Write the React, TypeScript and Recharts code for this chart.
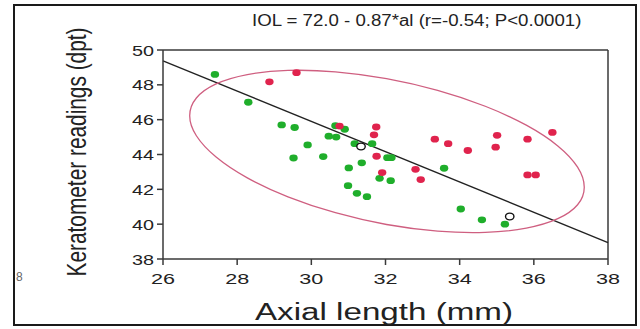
import { ScatterChart, Scatter, XAxis, YAxis, ReferenceLine } from 'recharts'

// axial length (mm) / keratometer reading (dpt)
const greenX = [27.4, 28.3, 29.2, 29.55, 30.65, 30.9, 30.47, 30.67, 29.9, 31.17, 31.64, 29.52, 30.32, 32.05, 32.16, 31.01, 31.36, 31.84, 32.14, 30.99, 31.23, 31.5, 33.58, 34.03, 34.6, 35.22]
const greenY = [48.6, 47.0, 45.7, 45.55, 45.65, 45.45, 45.05, 45.0, 44.55, 44.62, 44.62, 43.8, 43.88, 43.82, 43.82, 43.23, 43.52, 42.63, 42.5, 42.21, 41.77, 41.58, 43.21, 40.87, 40.25, 40.0]

const redX = [29.6, 28.87, 30.76, 31.75, 31.69, 31.76, 31.91, 32.81, 32.95, 33.33, 33.69, 34.22, 35.01, 34.97, 35.83, 36.5, 35.83, 36.05]
const redY = [48.7, 48.17, 45.63, 45.58, 45.13, 43.9, 42.96, 43.15, 42.56, 44.88, 44.62, 44.23, 45.1, 44.42, 44.88, 45.27, 42.83, 42.83]

const openX = [31.34, 35.35]
const openY = [44.46, 40.44]

// regression line end points (IOL = 72.0 - 0.87*al)
const lineX = [26, 38]
const lineY = [49.38, 38.94]

// outline of the ellipse
const ellipseX = [37.42, 37.24, 36.7, 35.84, 34.72, 33.42, 32.03, 30.63, 29.34, 28.23, 27.38, 26.84, 26.66, 26.84, 27.38, 28.23, 29.34, 30.63, 32.03, 33.42, 34.72, 35.84, 36.7, 37.24]
const ellipseY = [42.1, 41.08, 40.27, 39.72, 39.48, 39.55, 39.93, 40.62, 41.54, 42.64, 43.85, 45.09, 46.25, 47.28, 48.1, 48.64, 48.88, 48.8, 48.4, 47.72, 46.8, 45.7, 44.5, 43.26]

const xTicks = [26, 28, 30, 32, 34, 36, 38]
const yTicks = [38, 40, 42, 44, 46, 48, 50]

const toPoints = (xs: number[], ys: number[]) => xs.map((x, i) => ({ x, y: ys[i] }))

const greenData = toPoints(greenX, greenY)
const redData = toPoints(redX, redY)
const openData = toPoints(openX, openY)
const ellipseData = toPoints(ellipseX, ellipseY)

const FONT = '"Liberation Sans", Arial, sans-serif'
const AXIS = '#3a3a3a'

function Dot(color: string) {
  return (p: any) => <ellipse cx={p.cx} cy={p.cy} rx={4.2} ry={3.4} fill={color} />
}

const OpenDot = (p: any) => (
  <ellipse cx={p.cx} cy={p.cy} rx={4.2} ry={3.4} fill="#fff" stroke="#111" strokeWidth={1.4} />
)

const XTick = (p: any) => (
  <text x={p.x} y={p.y + 17} textAnchor="middle" fontSize={15} fontFamily={FONT} fill="#222"
    textLength={24} lengthAdjust="spacingAndGlyphs">{p.payload.value}</text>
)

const YTick = (p: any) => (
  <text x={p.x - 1} y={p.y + 5.5} textAnchor="end" fontSize={15} fontFamily={FONT} fill="#222"
    textLength={22} lengthAdjust="spacingAndGlyphs">{p.payload.value}</text>
)

export default function App() {
  return (
    <div style={{ position: 'absolute', left: 0, top: 0, width: 640, height: 329, background: '#fff', overflow: 'hidden' }}>
      <div style={{ position: 'absolute', left: 13, top: 4, width: 620, height: 318, border: '2px solid #1a1a1a' }} />
      <span style={{ position: 'absolute', left: 16, top: 270, fontFamily: FONT, fontSize: 12, color: '#666' }}>8</span>
      <ScatterChart width={640} height={329} margin={{ top: 50, right: 32, left: 0, bottom: 0 }}>
        <XAxis type="number" dataKey="x" domain={[26, 38]} ticks={xTicks} allowDataOverflow
          height={70} tickSize={6} tick={XTick} stroke={AXIS} strokeWidth={1.5}
          label={{ content: () => (
            <text x={384} y={320} textAnchor="middle" fontSize={23} fontFamily={FONT} fill="#222"
              textLength={258} lengthAdjust="spacingAndGlyphs">Axial length (mm)</text>
          ) }} />
        <YAxis type="number" dataKey="y" domain={[38, 50]} ticks={yTicks} allowDataOverflow
          width={163} tickSize={6} tick={YTick} stroke={AXIS} strokeWidth={1.5}
          label={{ content: () => (
            <text transform="translate(86,152) scale(1.35,1) rotate(-90)" textAnchor="middle" fontSize={21}
              fontFamily={FONT} fill="#222" textLength={249} lengthAdjust="spacingAndGlyphs">Keratometer readings (dpt)</text>
          ) }} />
        <ReferenceLine y={50} stroke={AXIS} strokeWidth={1.5} />
        <ReferenceLine x={38} stroke={AXIS} strokeWidth={1.5} />
        <Scatter data={ellipseData} isAnimationActive={false} line={{ stroke: '#cf5f80', strokeWidth: 1.3 }}
          lineJointType="basisClosed" shape={() => <g />} />
        <ReferenceLine segment={[{ x: lineX[0], y: lineY[0] }, { x: lineX[1], y: lineY[1] }]} stroke="#222" strokeWidth={1.4} />
        <Scatter data={greenData} isAnimationActive={false} shape={Dot('#1fae2b')} />
        <Scatter data={redData} isAnimationActive={false} shape={Dot('#e0234d')} />
        <Scatter data={openData} isAnimationActive={false} shape={OpenDot} />
      </ScatterChart>
      <div style={{ position: 'absolute', left: 252, top: 12, fontFamily: FONT, fontSize: 16, color: '#222',
        whiteSpace: 'nowrap', transform: 'scaleX(1.165)', transformOrigin: 'left top' }}>
        IOL = 72.0 - 0.87*al (r=-0.54; P&lt;0.0001)
      </div>
    </div>
  )
}
